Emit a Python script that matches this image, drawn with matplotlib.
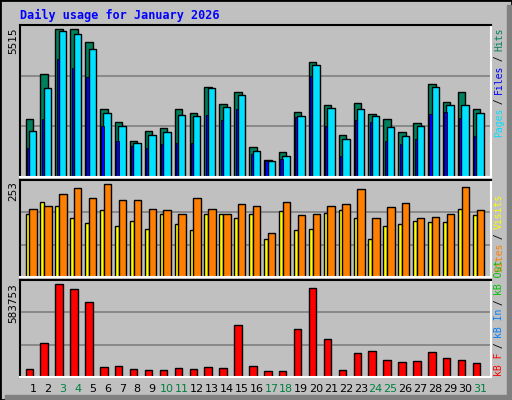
import matplotlib; matplotlib.use("Agg")
import matplotlib.pyplot as plt
from matplotlib.patches import Rectangle
import numpy as np

days = np.arange(1, 32)
weekend = [3, 4, 10, 11, 17, 18, 24, 25, 31]

hits = [2166, 3829, 5515, 5515, 5029, 2540, 2053, 1339, 1714, 1826, 2540, 2390, 3343, 2727, 3175, 1114,
        628, 927, 2428, 4305, 2690, 1564, 2765, 2353, 2166, 1677, 2016, 3455, 2802, 3175, 2540]
files = [1714, 3306, 5440, 5329, 4768, 2390, 1901, 1252, 1564, 1677, 2316, 2278, 3306, 2615, 3057, 976,
         602, 789, 2278, 4192, 2578, 1415, 2540, 2278, 1863, 1526, 1901, 3343, 2690, 2690, 2390]
pages = [1091, 2153, 4417, 4082, 3717, 1901, 1339, 1152, 1091, 1239, 1277, 1277, 2316, 2129, 2540, 864,
         602, 677, 2241, 3754, 1901, 777, 2129, 2053, 1339, 1239, 1415, 2353, 2428, 2203, 1526]
visits = [173, 206, 195, 162, 148, 184, 140, 154, 132, 171, 146, 129, 171, 171, 162, 173,
          105, 181, 129, 132, 176, 184, 160, 105, 140, 146, 154, 151, 151, 187, 168]
sites = [187, 193, 228, 242, 217, 253, 211, 209, 187, 184, 171, 217, 187, 171, 198, 195,
         119, 206, 168, 171, 195, 198, 239, 160, 190, 201, 162, 165, 173, 245, 184]
kbytes = [53260, 213097, 583753, 551795, 474985, 66043, 72435, 53260, 46868, 46868, 59651, 53260,
          66043, 59651, 328668, 72435, 40477, 40477, 303101, 558187, 238663, 46868, 149181, 161964,
          104436, 91653, 98044, 155572, 117220, 104436, 85261]

BG = "#c0c0c0"
fig = plt.figure(figsize=(5.12, 4.0), dpi=100, facecolor=BG)
W, H = 512, 400

def px_axes(x0, y0, x1, y1):
    return fig.add_axes([x0 / W, 1 - y1 / H, (x1 - x0) / W, (y1 - y0) / H])

def style(ax, top):
    ax.set_facecolor(BG)
    ax.set_xlim(0.13, 31.7)
    ax.set_ylim(0, top)
    for v in (top / 3, 2 * top / 3):
        ax.axhline(v, color="#808080", lw=1.2, zorder=0)
    ax.set_xticks([]); ax.set_yticks([])
    for s in ("top", "left"):
        ax.spines[s].set_color("black")
    for s in ("bottom", "right"):
        ax.spines[s].set_color("white")
    for s in ax.spines.values():
        s.set_linewidth(1.5)

ek = dict(edgecolor="black", linewidth=1.0, align="edge")

ax1 = px_axes(20, 25, 490.7, 177)
style(ax1, 5515 * 151.7 / 147.4)
ax1.bar(days - 0.5, hits, width=0.5, color="#00805c", **ek)
ax1.bar(days - 0.27, files, width=0.5, color="#00e0ff", **ek)
ax1.bar(days - 0.41, pages, width=0.15, color="#0000ff", edgecolor="black", linewidth=0.6, align="edge")

ax2 = px_axes(20, 180, 490.7, 277)
style(ax2, 253 * 290 / 277)
ax2.bar(days - 0.5, visits, width=0.27, color="#ffff00", **ek)
ax2.bar(days - 0.25, sites, width=0.5, color="#ff8000", **ek)

ax3 = px_axes(20, 280, 490.7, 377)
style(ax3, 583753 * 287 / 274)
ax3.bar(days - 0.5, kbytes, width=0.5, color="#ff0000", **ek)

mono = "DejaVu Sans Mono"
fig.text(20 / W, 1 - 15 / H, "Daily usage for January 2026", color="#0000ff",
         fontsize=8.5, fontweight="bold", family=mono, va="center")

for d in days:
    fig.text((33 + (d - 1) * 14.9) / W, 1 - 389 / H, str(d), ha="center", va="center",
             fontsize=8, color="#008040" if d in weekend else "black")

for label, ytop in (("5515", 27), ("253", 181), ("583753", 283)):
    fig.text(13 / W, 1 - ytop / H, label, rotation=90, ha="center", va="top", fontsize=7.5)

def vlabel(parts, ybottom):
    y = ybottom
    for txt, col in parts:
        fig.text(499 / W, 1 - y / H, txt, rotation=90, ha="center", va="bottom",
                 fontsize=7, family=mono, color=col)
        y -= 5.4 * len(txt)

vlabel([("Pages", "#00e0ff"), (" / ", "black"), ("Files", "#0000ff"), (" / ", "black"),
        ("Hits", "#00805c")], 137)
vlabel([("Sites", "#ff8000"), (" / ", "black"), ("Visits", "#ffff00")], 272)
vlabel([("kB F", "#ff0000"), (" / ", "black"), ("kB In", "#0080ff"), (" / ", "black"),
        ("kB Out", "#00c000")], 376)

# outer frame with 3D shading
fig.patches.append(Rectangle((0, 0), 1, 1, transform=fig.transFigure, fill=False,
                             edgecolor="black", linewidth=2))
fig.patches.append(Rectangle((507 / W, 0), 4 / W, 1 - 5 / H, transform=fig.transFigure,
                             color="#808080"))
fig.patches.append(Rectangle((5 / W, 1 / H), 1 - 6 / W, 4 / H, transform=fig.transFigure,
                             color="#808080"))

fig.savefig("out.png", dpi=100, facecolor=BG)
